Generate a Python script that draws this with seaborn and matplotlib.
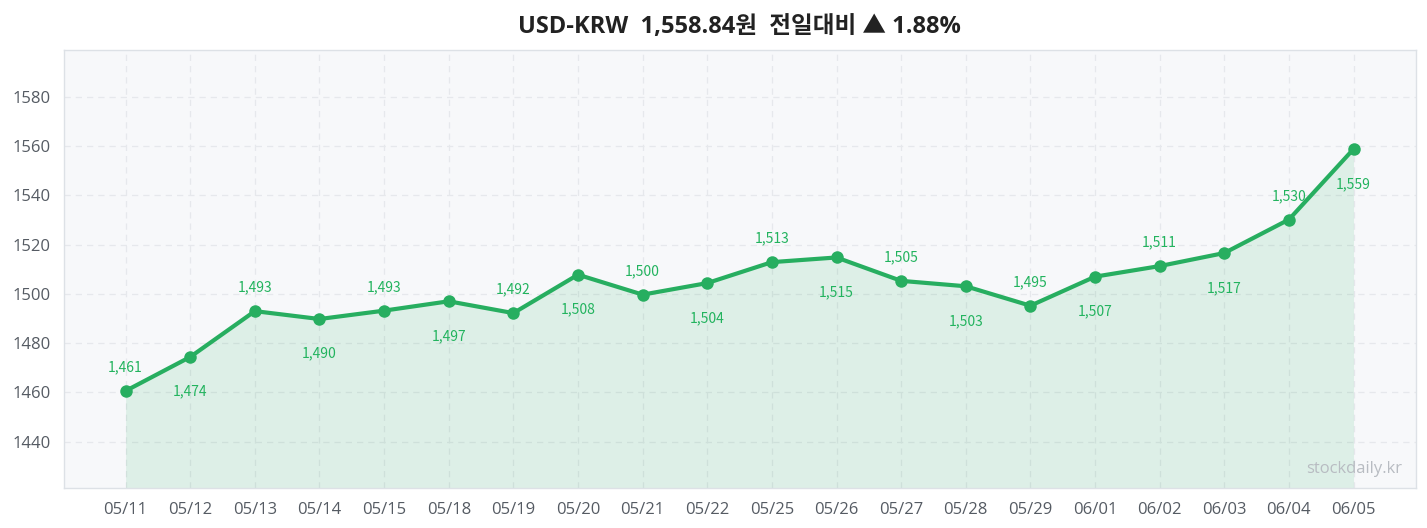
import matplotlib
matplotlib.use("Agg")
import matplotlib.pyplot as plt
import seaborn as sns
import pandas as pd
import numpy as np

dates = ["05/11", "05/12", "05/13", "05/14", "05/15", "05/18", "05/19", "05/20", "05/21", "05/22",
         "05/25", "05/26", "05/27", "05/28", "05/29", "06/01", "06/02", "06/03", "06/04", "06/05"]
rates = [1460.6, 1474.4, 1493.0, 1489.8, 1493.2, 1497.0, 1492.2, 1507.8, 1499.7, 1504.4,
         1512.9, 1514.8, 1505.3, 1503.1, 1495.2, 1507.0, 1511.3, 1516.6, 1530.2, 1558.84]
yticks = [1440, 1460, 1480, 1500, 1520, 1540, 1560, 1580]
title = "USD-KRW  1,558.84원  전일대비 ▲ 1.88%"

sns.set_theme(style="whitegrid")
plt.rcParams['font.family'] = ['Open Sans', 'Noto Sans CJK KR', 'DejaVu Sans']

df = pd.DataFrame({"date": dates, "rate": rates, "idx": np.arange(len(dates))})

green = "#27ae60"
fig, ax = plt.subplots(figsize=(14.27, 5.28), dpi=100)
fig.subplots_adjust(left=0.045, right=0.992, top=0.905, bottom=0.075)
ax.set_facecolor("#f7f8fa")
ylo, yhi = 1421, 1599
ax.fill_between(df["idx"], df["rate"], ylo, color=green, alpha=0.12, linewidth=0)
sns.lineplot(data=df, x="idx", y="rate", ax=ax, color=green, linewidth=3, marker="o",
             markersize=9, markeredgewidth=0, markerfacecolor=green)

for i, v in enumerate(rates):
    lab = f"{round(v):,}"
    if i % 2 == 0:
        ax.annotate(lab, (i, v), xytext=(0, 12), textcoords="offset points", ha="center",
                    va="bottom", fontsize=10, color="#22b35e",
                    family=['Noto Sans CJK KR', 'DejaVu Sans'])
    else:
        ax.annotate(lab, (i, v), xytext=(0, -20), textcoords="offset points", ha="center",
                    va="top", fontsize=10, color="#22b35e",
                    family=['Noto Sans CJK KR', 'DejaVu Sans'])

ax.set_xlim(-0.95, len(dates) - 1 + 0.96)
ax.set_ylim(ylo, yhi)
ax.set_xticks(df["idx"])
ax.set_xticklabels(dates)
ax.set_yticks(yticks)
ax.tick_params(axis="both", labelsize=12, colors="#555b63", length=4, width=1.2, pad=6)
ax.set_xlabel("")
ax.set_ylabel("")
ax.grid(True, linestyle=(0, (5, 4)), color="#e6e8ec", linewidth=0.9)
for s in ax.spines.values():
    s.set_color("#dde1e6")
    s.set_linewidth(1.0)
ax.set_title(title, fontsize=17, fontweight="bold", color="#222222", pad=12,
             family=['Open Sans', 'Noto Sans CJK KR', 'DejaVu Sans'])
ax.text(0.99, 0.025, "stockdaily.kr", transform=ax.transAxes, ha="right", va="bottom",
        fontsize=12, color="#b8bcc2")
fig.savefig("out.png", dpi=100)
